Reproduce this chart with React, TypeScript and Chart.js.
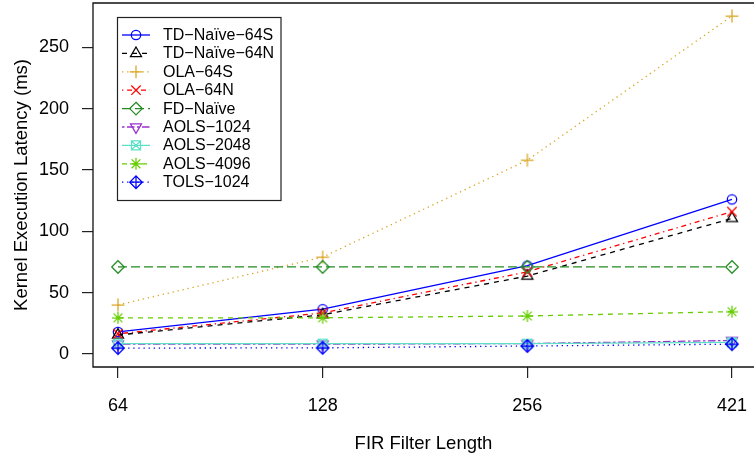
import React, { useEffect, useRef } from 'react';
import { Chart, registerables } from 'chart.js';

Chart.register(...registerables);

// FIR filter lengths on the x axis (evenly spaced categories)
const filterLengths = ['64', '128', '256', '421'];
const yTickValues = [0, 50, 100, 150, 200, 250];

// Kernel execution latency (ms) per implementation
const tdNaive64S = [18, 36.5, 72, 126];
const tdNaive64N = [15.5, 32, 63.5, 110.5];
const ola64S = [40, 79, 158, 275.5];
const ola64N = [16.5, 33.5, 67, 116];
const fdNaive = [71, 71, 71, 71];
const aols1024 = [8, 8, 8.5, 11];
const aols2048 = [8.5, 8.5, 8.5, 9.5];
const aols4096 = [29.5, 29.5, 31, 34.5];
const tols1024 = [4.8, 5, 6.5, 8];

type MarkerKind =
  | 'circle'
  | 'triUp'
  | 'plus'
  | 'cross'
  | 'diamond'
  | 'triDown'
  | 'squareX'
  | 'asterisk'
  | 'diamondPlus';

interface SeriesDef {
  name: string;
  values: number[];
  color: string;
  dash: number[];
  marker: MarkerKind;
}

const series: SeriesDef[] = [
  { name: 'TD\u2212Na\u00efve\u221264S', values: tdNaive64S, color: '#0000FF', dash: [], marker: 'circle' },
  { name: 'TD\u2212Na\u00efve\u221264N', values: tdNaive64N, color: '#000000', dash: [5, 5], marker: 'triUp' },
  { name: 'OLA\u221264S', values: ola64S, color: '#DAA520', dash: [1.3, 3.8], marker: 'plus' },
  { name: 'OLA\u221264N', values: ola64N, color: '#FF0000', dash: [1.3, 3.8, 5, 3.8], marker: 'cross' },
  { name: 'FD\u2212Na\u00efve', values: fdNaive, color: '#228B22', dash: [9, 4], marker: 'diamond' },
  { name: 'AOLS\u22121024', values: aols1024, color: '#9A32CD', dash: [2.5, 2.5, 7.5, 2.5], marker: 'triDown' },
  { name: 'AOLS\u22122048', values: aols2048, color: '#5EE0C8', dash: [], marker: 'squareX' },
  { name: 'AOLS\u22124096', values: aols4096, color: '#66CD00', dash: [5, 5], marker: 'asterisk' },
  { name: 'TOLS\u22121024', values: tols1024, color: '#0000FF', dash: [1.3, 3.8], marker: 'diamondPlus' },
];

const FONT = '"Liberation Sans", Arial, Helvetica, sans-serif';

function drawMarker(ctx: CanvasRenderingContext2D, kind: MarkerKind, cx: number, cy: number, color: string) {
  ctx.save();
  ctx.strokeStyle = color;
  ctx.lineWidth = 1.25;
  ctx.setLineDash([]);
  ctx.beginPath();
  const line = (x1: number, y1: number, x2: number, y2: number) => {
    ctx.moveTo(cx + x1, cy + y1);
    ctx.lineTo(cx + x2, cy + y2);
  };
  const diamond = (r: number) => {
    ctx.moveTo(cx, cy - r);
    ctx.lineTo(cx + r, cy);
    ctx.lineTo(cx, cy + r);
    ctx.lineTo(cx - r, cy);
    ctx.closePath();
  };
  switch (kind) {
    case 'circle':
      ctx.arc(cx, cy, 4.7, 0, Math.PI * 2);
      break;
    case 'triUp': {
      const r = 6.4;
      ctx.moveTo(cx, cy - r);
      ctx.lineTo(cx + r * 0.866, cy + r * 0.5);
      ctx.lineTo(cx - r * 0.866, cy + r * 0.5);
      ctx.closePath();
      break;
    }
    case 'triDown': {
      const r = 6.4;
      ctx.moveTo(cx, cy + r);
      ctx.lineTo(cx + r * 0.866, cy - r * 0.5);
      ctx.lineTo(cx - r * 0.866, cy - r * 0.5);
      ctx.closePath();
      break;
    }
    case 'plus':
      line(-6.4, 0, 6.4, 0);
      line(0, -6.4, 0, 6.4);
      break;
    case 'cross':
      line(-4.7, -4.7, 4.7, 4.7);
      line(-4.7, 4.7, 4.7, -4.7);
      break;
    case 'diamond':
      diamond(6.3);
      break;
    case 'squareX':
      ctx.rect(cx - 4.5, cy - 4.5, 9, 9);
      line(-4.5, -4.5, 4.5, 4.5);
      line(-4.5, 4.5, 4.5, -4.5);
      break;
    case 'asterisk':
      line(-6, 0, 6, 0);
      line(0, -6, 0, 6);
      line(-4.4, -4.4, 4.4, 4.4);
      line(-4.4, 4.4, 4.4, -4.4);
      break;
    case 'diamondPlus':
      diamond(6.3);
      line(-6.3, 0, 6.3, 0);
      line(0, -6.3, 0, 6.3);
      break;
  }
  ctx.stroke();
  ctx.restore();
}

function makeMarkerImage(kind: MarkerKind, color: string): HTMLCanvasElement {
  const c = document.createElement('canvas');
  c.width = 20;
  c.height = 20;
  const ctx = c.getContext('2d')!;
  drawMarker(ctx, kind, 10, 10, color);
  return c;
}

// Plot frame (left, top and bottom edges) drawn around the chart area
const framePlugin = {
  id: 'plotFrame',
  afterDraw(chart: Chart) {
    const { ctx, chartArea } = chart;
    ctx.save();
    ctx.strokeStyle = '#111';
    ctx.lineWidth = 1.3;
    ctx.beginPath();
    ctx.moveTo(chartArea.right + 5, chartArea.top);
    ctx.lineTo(chartArea.left, chartArea.top);
    ctx.lineTo(chartArea.left, chartArea.bottom);
    ctx.lineTo(chartArea.right + 5, chartArea.bottom);
    ctx.stroke();
    ctx.restore();
  },
};

// Boxed legend inside the plot's upper-left corner
const boxLegendPlugin = {
  id: 'boxLegend',
  afterDraw(chart: Chart) {
    const { ctx } = chart;
    const left = 117.5;
    const top = 17.5;
    const width = 163.5;
    const height = 183;
    ctx.save();
    ctx.fillStyle = '#fff';
    ctx.fillRect(left, top, width, height);
    ctx.strokeStyle = '#222';
    ctx.lineWidth = 1.2;
    ctx.strokeRect(left, top, width, height);
    ctx.font = `16px ${FONT}`;
    ctx.textBaseline = 'middle';
    ctx.textAlign = 'left';
    series.forEach((s, i) => {
      const y = 35 + i * 18.4;
      ctx.save();
      ctx.strokeStyle = s.color;
      ctx.lineWidth = 1.3;
      ctx.setLineDash(s.dash);
      ctx.beginPath();
      ctx.moveTo(122, y);
      ctx.lineTo(150, y);
      ctx.stroke();
      ctx.restore();
      drawMarker(ctx, s.marker, 136, y, s.color);
      ctx.fillStyle = '#000';
      ctx.fillText(s.name, 163, y + 0.5);
    });
    ctx.restore();
  },
};

export default function App() {
  const canvasRef = useRef<HTMLCanvasElement | null>(null);

  useEffect(() => {
    document.body.style.margin = '0';
    const canvas = canvasRef.current;
    if (!canvas) return;

    const datasets = series.map((s, i) => ({
      label: s.name,
      data: s.values.map((v, j) => ({ x: j + 1, y: v })),
      borderColor: s.color,
      backgroundColor: s.color,
      borderWidth: 1.3,
      borderDash: s.dash,
      pointStyle: makeMarkerImage(s.marker, s.color),
      pointRadius: 0.1,
      pointBorderWidth: 0,
      tension: 0,
      fill: false,
      order: series.length - i,
    }));

    const chart = new Chart(canvas, {
      type: 'line',
      data: { datasets },
      options: {
        animation: false,
        responsive: false,
        devicePixelRatio: 1,
        layout: { autoPadding: false, padding: { top: 3, left: 0, right: 0, bottom: 0 } },
        plugins: {
          legend: { display: false },
          tooltip: { enabled: false },
        },
        scales: {
          x: {
            type: 'linear',
            min: 0.8779,
            max: 4.1075,
            afterBuildTicks: (scale: any) => {
              scale.ticks = filterLengths.map((_, i) => ({ value: i + 1 }));
            },
            afterFit: (scale: any) => {
              scale.height = 97;
              scale.paddingLeft = 0;
              scale.paddingRight = 0;
              scale.paddingTop = 0;
              scale.paddingBottom = 0;
            },
            ticks: {
              autoSkip: false,
              maxRotation: 0,
              minRotation: 0,
              padding: 17,
              color: '#000',
              font: { family: FONT, size: 18 },
              callback: (v: any) => filterLengths[Math.round(Number(v)) - 1] ?? '',
            },
            grid: {
              display: true,
              drawOnChartArea: false,
              drawTicks: true,
              tickLength: 11,
              color: '#222',
              lineWidth: 1.2,
            },
            border: { display: false },
            title: {
              display: true,
              text: 'FIR Filter Length',
              color: '#000',
              font: { family: FONT, size: 18.5 },
              padding: { top: 0, bottom: 9 },
            },
          },
          y: {
            type: 'linear',
            min: -10.6,
            max: 286.1,
            afterBuildTicks: (scale: any) => {
              scale.ticks = yTickValues.map((v) => ({ value: v }));
            },
            afterFit: (scale: any) => {
              scale.width = 93;
              scale.paddingLeft = 0;
              scale.paddingRight = 0;
              scale.paddingTop = 0;
              scale.paddingBottom = 0;
            },
            ticks: {
              autoSkip: false,
              padding: 13,
              color: '#000',
              font: { family: FONT, size: 18 },
              callback: (v: any) => String(v),
            },
            grid: {
              display: true,
              drawOnChartArea: false,
              drawTicks: true,
              tickLength: 11,
              color: '#222',
              lineWidth: 1.2,
            },
            border: { display: false },
            title: {
              display: true,
              text: 'Kernel Execution Latency (ms)',
              color: '#000',
              font: { family: FONT, size: 18.5 },
              padding: { top: 10.8, bottom: 0 },
            },
          },
        },
      },
      plugins: [framePlugin, boxLegendPlugin],
    });

    return () => {
      chart.destroy();
    };
  }, []);

  return <canvas ref={canvasRef} width={754} height={464} style={{ display: 'block' }} />;
}
